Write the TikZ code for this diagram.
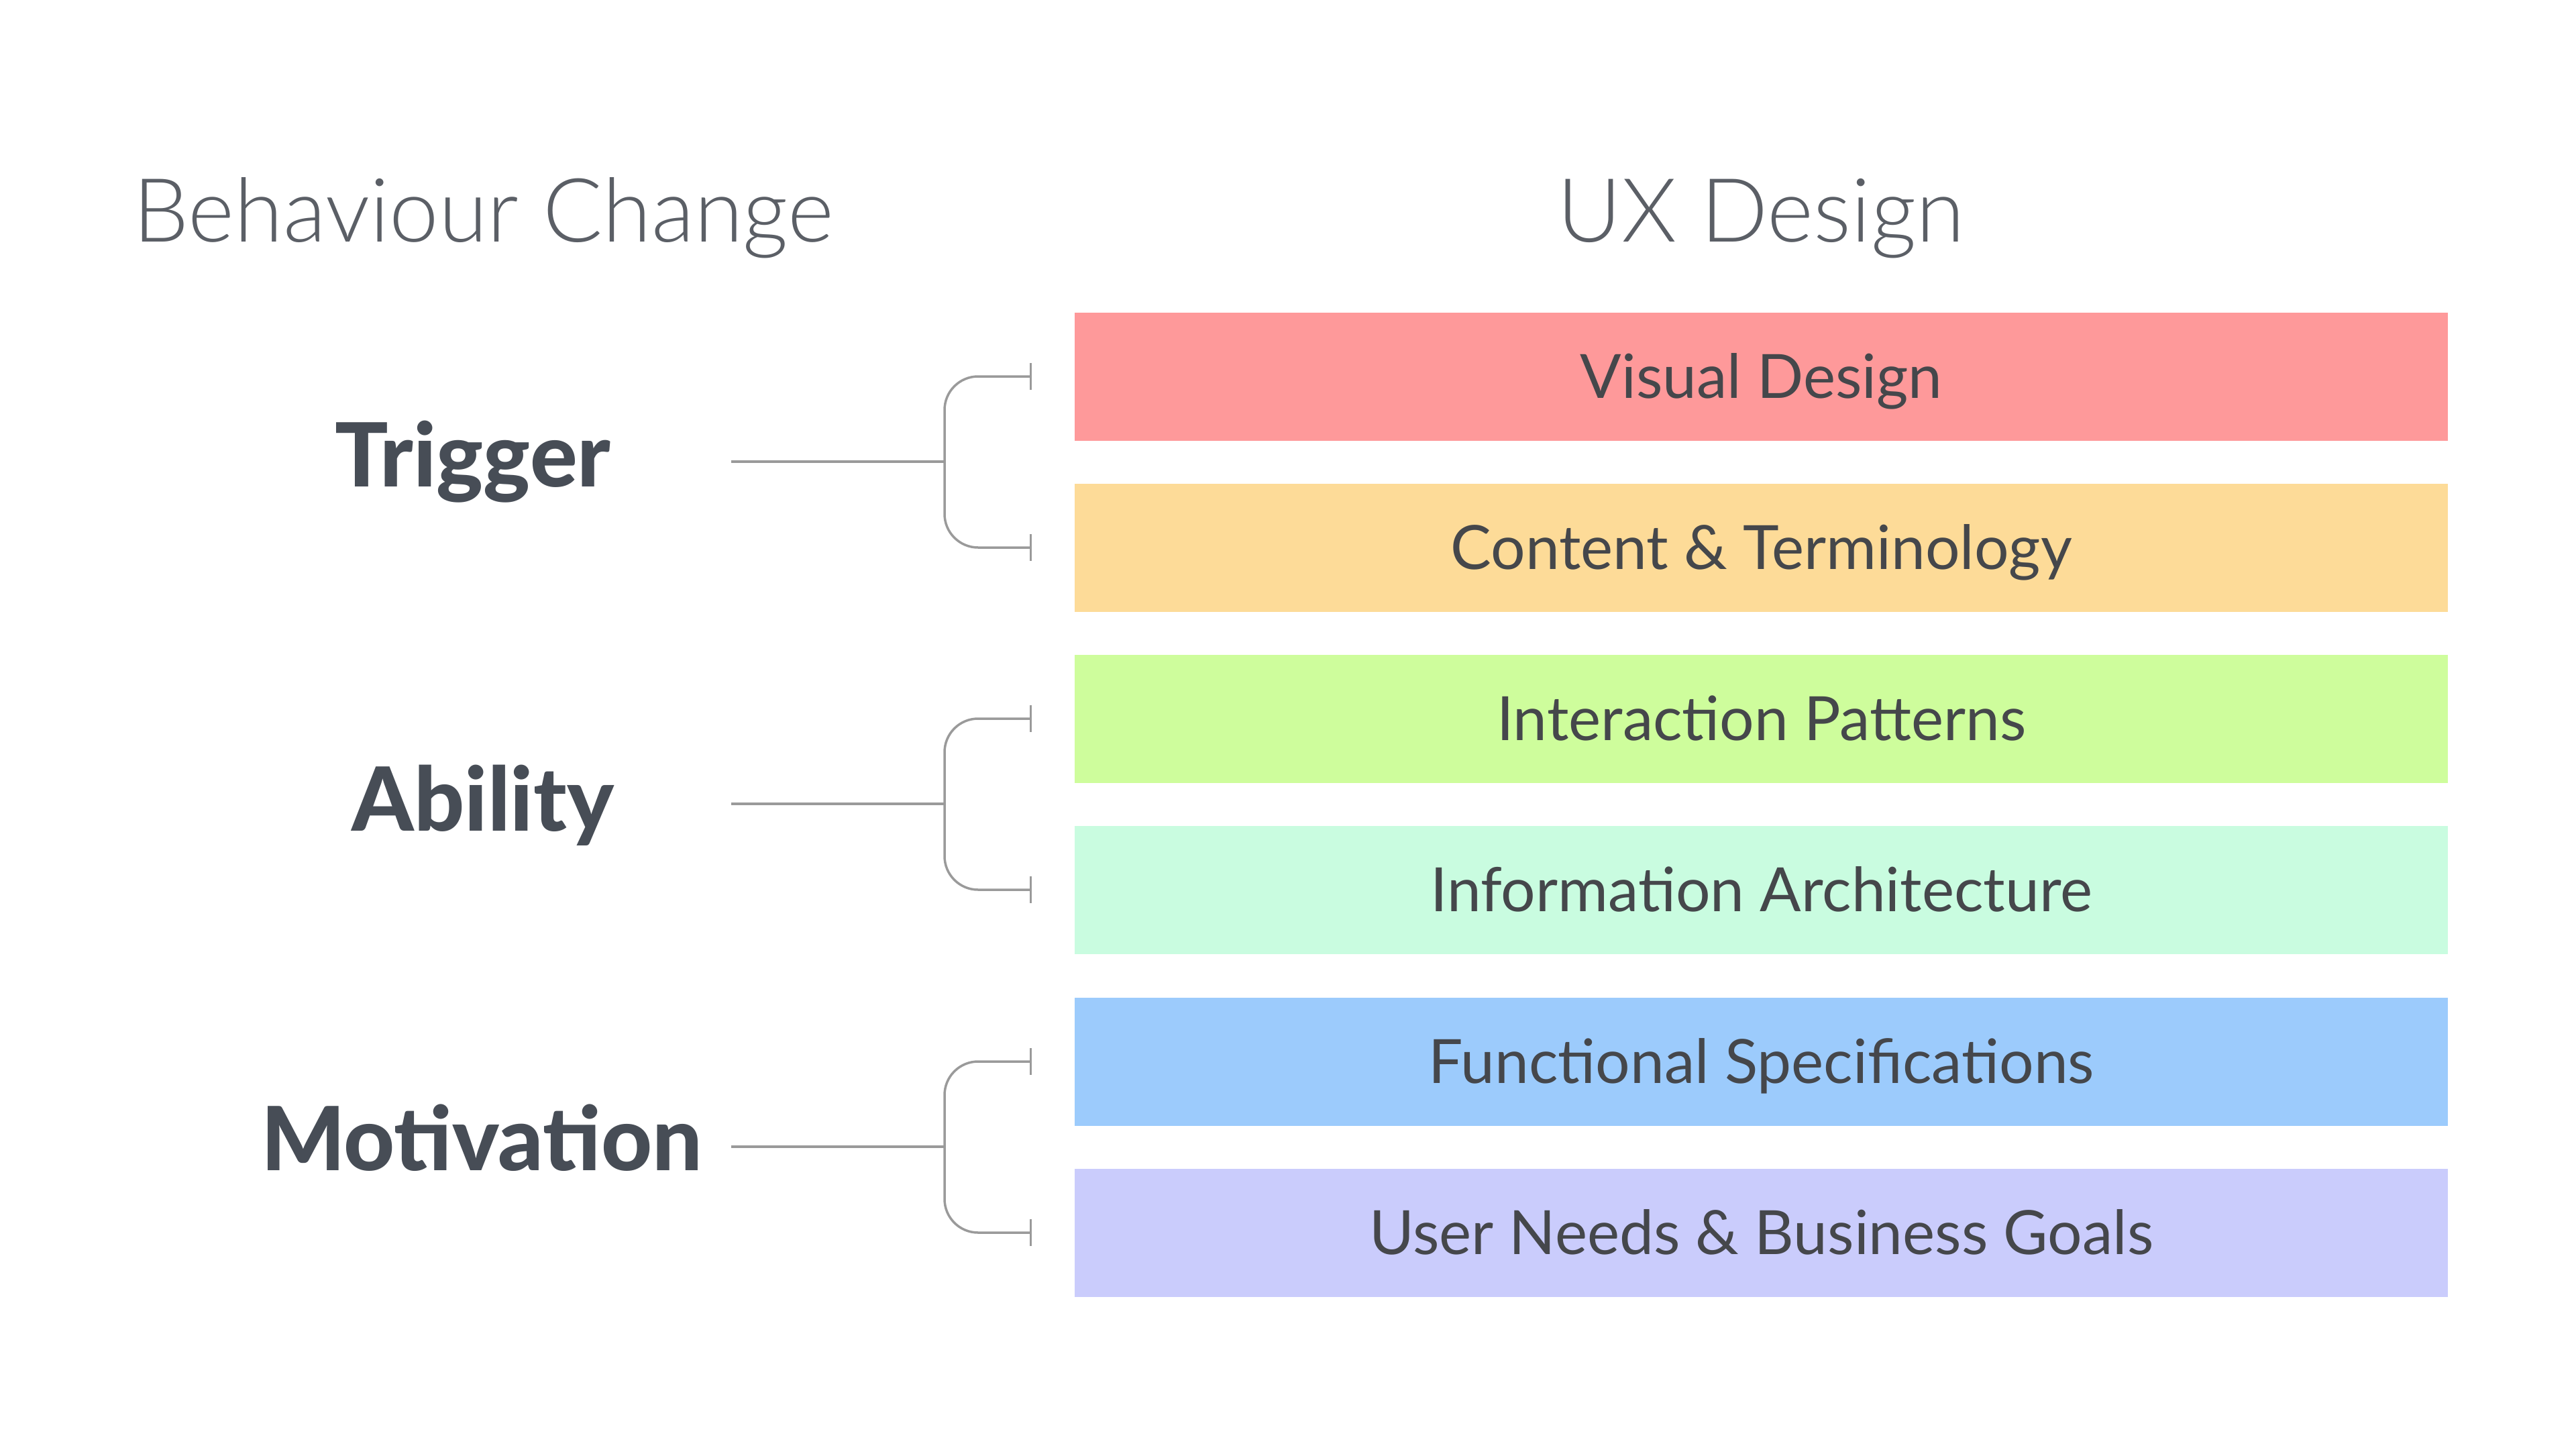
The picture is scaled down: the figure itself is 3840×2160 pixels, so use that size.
\documentclass[tikz,border=0pt]{standalone}
\usepackage{fontspec}
\setmainfont{Lato}
\newfontfamily\lightfont{Lato Light}
\newfontfamily\heavyfont{Lato Heavy}
\usetikzlibrary{arrows.meta,calc}
\definecolor{cRed}{HTML}{FE999A}
\definecolor{cOrange}{HTML}{FDDB98}
\definecolor{cGreen}{HTML}{CEFD9C}
\definecolor{cMint}{HTML}{C9FCE0}
\definecolor{cBlue}{HTML}{9CCBFC}
\definecolor{cPurple}{HTML}{CACCFC}
\definecolor{txtBox}{HTML}{45474B}
\definecolor{txtLabel}{HTML}{474D56}
\definecolor{txtTitle}{HTML}{5B5F66}
\definecolor{lineGray}{HTML}{9A9A9A}
\tikzset{
  layerbox/.style={minimum width=2047pt, minimum height=191pt, inner sep=0pt,
    text=txtBox, font=\fontsize{91}{109}\selectfont, anchor=west,
    text height=65.5pt, text depth=0pt},
  factor/.style={text=txtLabel, font=\heavyfont\fontsize{132}{158}\selectfont, inner sep=0pt,
    text height=95pt, text depth=0pt},
  heading/.style={text=txtTitle, font=\lightfont\fontsize{132}{158}\selectfont, inner sep=0pt,
    text height=95pt, text depth=0pt},
  stem/.style={draw=lineGray, line width=4.5pt},
  brk/.style={draw=lineGray, line width=3.5pt, rounded corners=50pt,
    {Bar[width=40pt,line width=3pt]}-{Bar[width=40pt,line width=3pt]}}
}
\begin{document}
\begin{tikzpicture}[x=1pt,y=-1pt]
\useasboundingbox[fill=white] (0,0) rectangle (3840,2160);
% headings
\node[heading, anchor=west] (hbc) at (198,313) {Behaviour Change};
\node[heading] (hux) at (2625,313) {UX Design};
% layer boxes
\node[layerbox, fill=cRed] (vis) at (1602,561) {Visual Design};
\node[layerbox, fill=cOrange] (con) at (1602,816) {Content \& Terminology};
\node[layerbox, fill=cGreen] (ipa) at (1602,1071) {Interaction Patterns};
\node[layerbox, fill=cMint] (iar) at (1602,1326) {Information Architecture};
\node[layerbox, fill=cBlue] (fsp) at (1602,1582) {Functional Specifications};
\node[layerbox, fill=cPurple] (ung) at (1602,1837) {User Needs \& Business Goals};
% factors
\node[factor] (trig) at (705,678) {Trigger};
\node[factor] (abil) at (720,1191) {Ability};
\node[factor] (moti) at (718,1697) {Motivation};
% stems
\coordinate (ts) at (1090,688);
\coordinate (tj) at (1408,688);
\coordinate (as) at (1090,1198);
\coordinate (aj) at (1408,1198);
\coordinate (ms) at (1090,1709);
\coordinate (mj) at (1408,1709);
\draw[stem] (ts) -- (tj);
\draw[stem] (as) -- (aj);
\draw[stem] (ms) -- (mj);
% brackets
\draw[brk] ($(vis.west)+(-64,0)$) -| (tj) |- ($(con.west)+(-64,0)$);
\draw[brk] ($(ipa.west)+(-64,0)$) -| (aj) |- ($(iar.west)+(-64,0)$);
\draw[brk] ($(fsp.west)+(-64,0)$) -| (mj) |- ($(ung.west)+(-64,0)$);
\end{tikzpicture}
\end{document}
